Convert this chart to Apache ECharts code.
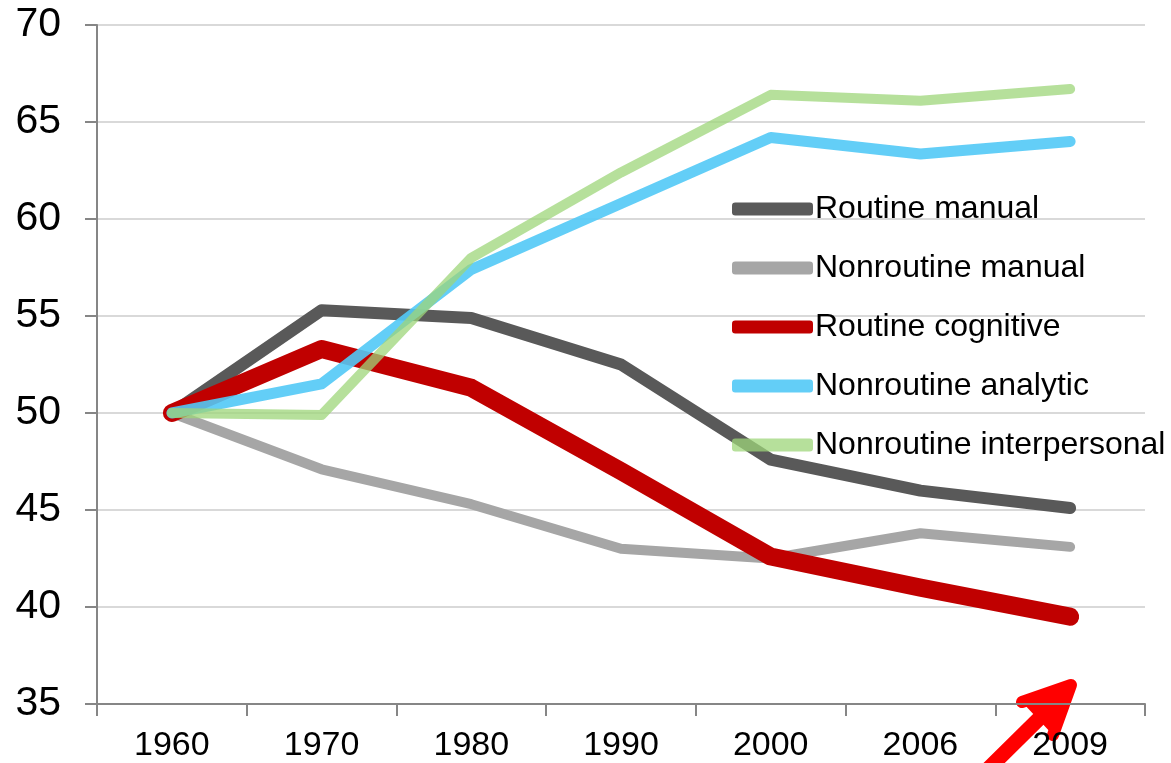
<!DOCTYPE html>
<html><head><meta charset="utf-8">
<script src="https://cdn.jsdelivr.net/npm/echarts@6/dist/echarts.min.js"></script>
<style>html,body{margin:0;padding:0;background:#fff}#c{width:1171px;height:763px}</style>
</head><body><div id="c"></div>
<script>
const categories = ['1960','1970','1980','1990','2000','2006','2009'];
const routineManual = [50, 55.3, 54.9, 52.5, 47.6, 46.0, 45.1];
const nonroutineManual = [50, 47.1, 45.3, 43.0, 42.5, 43.8, 43.1];
const routineCognitive = [50, 53.3, 51.3, 47.0, 42.6, 41.0, 39.5];
const nonroutineAnalytic = [50, 51.5, 57.4, 60.8, 64.2, 63.35, 64.0];
const nonroutineInterpersonal = [50, 49.9, 58.0, 62.4, 66.4, 66.1, 66.7];
const yTicks = { min: 35, max: 70, interval: 5 };

const chart = echarts.init(document.getElementById('c'), null, {renderer:'canvas'});
const font = 'Liberation Sans, Arial, sans-serif';
function s(name, data, color, width, opacity){
  return { name, type:'line', data, symbol:'none', silent:true,
    lineStyle:{ color, width, opacity, cap:'round', join:'round' },
    itemStyle:{ color, opacity }, emphasis:{disabled:true} };
}
chart.setOption({
  animation:false,
  grid:{ left:97, right:26, top:25, bottom:58, containLabel:false },
  legend:{
    orient:'vertical', left:727, top:188, itemWidth:81, itemHeight:13, itemGap:27,
    icon:'roundRect',
    textStyle:{ fontFamily:font, fontSize:32, color:'#000', padding:[0,0,0,-3] },
    data:['Routine manual','Nonroutine manual','Routine cognitive','Nonroutine analytic','Nonroutine interpersonal']
  },
  xAxis:{ type:'category', data:categories, boundaryGap:true,
    axisLine:{ lineStyle:{ color:'#868686', width:2 } },
    axisTick:{ show:true, length:12, lineStyle:{ color:'#868686', width:2 } },
    axisLabel:{ fontFamily:font, fontSize:34, color:'#000', margin:25 },
    splitLine:{ show:false } },
  yAxis:{ type:'value', min:yTicks.min, max:yTicks.max, interval:yTicks.interval,
    axisLine:{ show:true, lineStyle:{ color:'#868686', width:2 } },
    axisTick:{ show:true, length:12, lineStyle:{ color:'#868686', width:2 } },
    axisLabel:{ fontFamily:font, fontSize:41, color:'#000', margin:36 },
    splitLine:{ show:true, lineStyle:{ color:'#d9d9d9', width:2 } } },
  series:[
    s('Routine manual', routineManual, '#595959', 12, 1),
    s('Nonroutine manual', nonroutineManual, '#a6a6a6', 10, 1),
    s('Routine cognitive', routineCognitive, '#c00000', 18, 1),
    s('Nonroutine analytic', nonroutineAnalytic, '#52c9f6', 11, 0.9),
    s('Nonroutine interpersonal', nonroutineInterpersonal, '#9dd67a', 10, 0.75)
  ],
  graphic:[
    { type:'polyline', silent:true, shape:{ points:[[982,775],[1066,692]] },
      style:{ stroke:'#ff0000', lineWidth:15, lineCap:'round' } },
    { type:'polyline', silent:true, shape:{ points:[[1022,702],[1071,685],[1053,735]] },
      style:{ stroke:'#ff0000', fill:'#ff0000', lineWidth:12, lineCap:'round', lineJoin:'round' } }
  ]
});
</script></body></html>
